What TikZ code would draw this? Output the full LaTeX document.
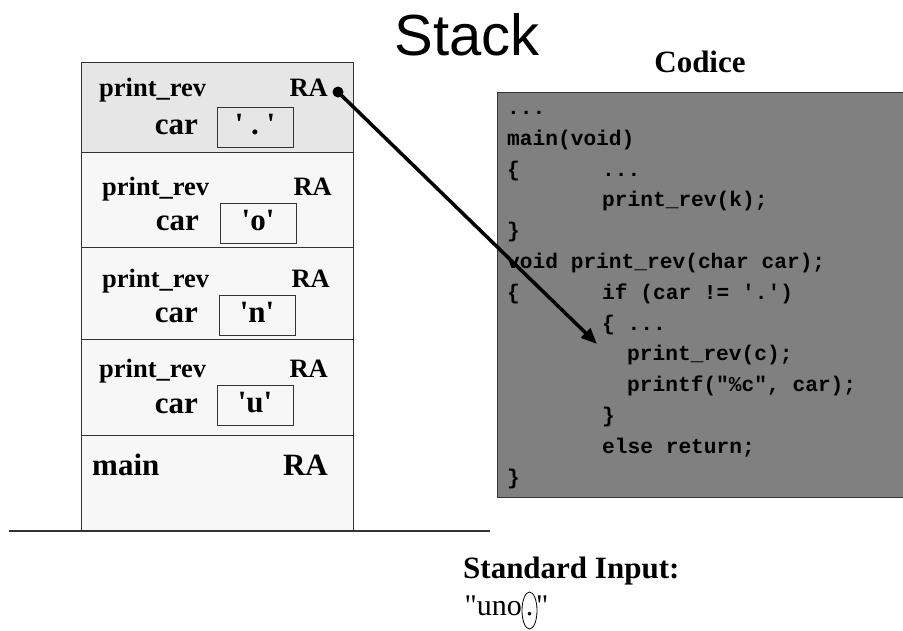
\documentclass[tikz,border=0pt]{standalone}
\usepackage{fontspec}
\setmainfont{Liberation Serif}
\setsansfont{Liberation Sans}
\setmonofont{Liberation Mono}
\usepackage{tikz}
\usetikzlibrary{positioning}
\usetikzlibrary{arrows.meta}
\usetikzlibrary{shapes.geometric}

\definecolor{topframe}{HTML}{E6E6E6}
\definecolor{lowframe}{HTML}{F7F7F7}
\definecolor{codegray}{HTML}{808080}
\definecolor{edge}{HTML}{333333}

\newcommand{\sq}{\textquotesingle}
\newcommand{\dq}{\textquotedbl}

\begin{document}
\begin{tikzpicture}[ x = 1pt, y = -1pt
                   , >={Triangle[width=13pt, length=16pt]}
                   , every node/.style = { inner sep = 0pt }
                   ]

  \tikzset{ frame/.style = { draw = edge, line width = 1.2pt, rectangle
                           , anchor = north west, minimum width = 272pt }
          , fname/.style = {font=\bfseries\fontsize{26.5}{28}\selectfont}
          , big/.style   = {font=\bfseries\fontsize{31}{33}\selectfont}
          , value/.style = { big, draw = edge, line width = 0.8pt
                           , minimum width = 76pt, minimum height = 40pt
                           , text height = 20pt, text depth = 6pt }
          , plain/.style = {font=\fontsize{30}{32}\selectfont}}

  \useasboundingbox (0,0) rectangle (903,630);

  %%
  %% Stack frames
  %%
  \node (frame1) [frame, fill=topframe, minimum height=90pt] at (81,62)  {};
  \node (frame2) [frame, fill=lowframe, minimum height=95pt] at (81,152) {};
  \node (frame3) [frame, fill=lowframe, minimum height=92pt] at (81,247) {};
  \node (frame4) [frame, fill=lowframe, minimum height=96pt] at (81,339) {};
  \node (frame5) [frame, fill=lowframe, minimum height=96pt] at (81,435) {};
  \draw[line width=1.2pt, edge] (9,531) -- (490,531);

  \node (pr1)  [fname, anchor=base west] at (99,96)   {print\_rev};
  \node (ra1)  [fname, anchor=base east] at (328,96)  {RA};
  \node (car1) [big, anchor=base east]   at (198,134) {car};
  \node (val1) [value]                   at (255,127) {\sq\ .\ \sq};

  \node (pr2)  [fname, anchor=base west] at (102,195) {print\_rev};
  \node (ra2)  [fname, anchor=base east] at (332,195) {RA};
  \node (car2) [big, anchor=base east]   at (199,230) {car};
  \node (val2) [value]                   at (258,223) {\sq o\sq};

  \node (pr3)  [fname, anchor=base west] at (102,287) {print\_rev};
  \node (ra3)  [fname, anchor=base east] at (330,287) {RA};
  \node (car3) [big, anchor=base east]   at (198,322) {car};
  \node (val3) [value]                   at (257,315) {\sq n\sq};

  \node (pr4)  [fname, anchor=base west] at (99,377)  {print\_rev};
  \node (ra4)  [fname, anchor=base east] at (328,377) {RA};
  \node (car4) [big, anchor=base east]   at (198,413) {car};
  \node (val4) [value]                   at (255,405) {\sq u\sq};

  \node (main) [big, anchor=base west]   at (92,475)  {main};
  \node (ra5)  [big, anchor=base east]   at (328,475) {RA};

  %%
  %% Titles
  %%
  \node (stack)  [anchor=base, font=\sffamily\fontsize{58}{60}\selectfont]
                 at (467,55) {Stack};
  \node (codice) [big, anchor=base] at (700,72) {Codice};

  %%
  %% Code
  %%
  \node (codebox) [ draw = edge, fill = codegray, line width = 1.2pt
                  , anchor = north west, minimum width = 420pt
                  , minimum height = 405pt ] at (497,92) {};
  \node (code) [ anchor = base west, align = left
               , font = \ttfamily\bfseries\fontsize{21.2}{30.8}\selectfont ]
               at (507,484)
    {...\\
     main(void)\\
     \makebox[95pt][l]{\{}...\\
     \hspace*{95pt}print\_rev(k);\\
     \}\\
     void print\_rev(char car);\\
     \makebox[95pt][l]{\{}if (car != \sq.\sq)\\
     \hspace*{95pt}\{ ...\\
     \hspace*{120pt}print\_rev(c);\\
     \hspace*{120pt}printf(\dq\%c\dq, car);\\
     \hspace*{95pt}\}\\
     \hspace*{95pt}else return;\\
     \}};

  %%
  %% Standard input
  %%
  \node (stdin) [big, anchor=base west] at (463,578) {Standard Input:};
  \node (uno)   [plain, anchor=base east] at (522,615) {\dq uno};
  \node (point) [ plain, ellipse, draw, line width = 0.8pt, anchor = base
                , minimum width = 15pt, minimum height = 37pt
                , text height = 12pt, text depth = 3pt ] at (529.5,615) {.};
  \node (close) [plain, anchor=base west] at (536,615) {\dq};

  %%
  %% Return address
  %%
  \node (ret) [circle, fill=black, minimum size=11pt] at (338,92) {};
  \coordinate (call) at (597,344);
  \draw[->, line width=3.5pt] (ret.center) -- (call);
\end{tikzpicture}
\end{document}
